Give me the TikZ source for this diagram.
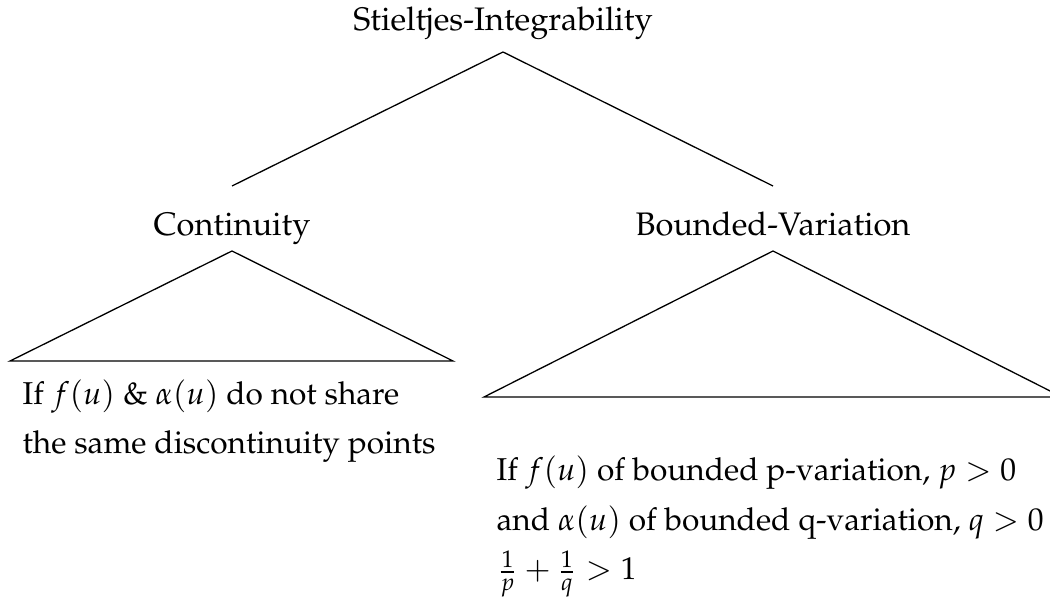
\documentclass[tikz,border=0pt]{standalone}
\usepackage[T1]{fontenc}
\usepackage{mathpazo}
\begin{document}
\begin{tikzpicture}[x=0.307pt,y=-0.307pt,
  lbl/.style={font=\fontsize{10}{12}\selectfont, inner sep=0pt, anchor=base},
  leafline/.style={font=\fontsize{9.7}{12}\selectfont, inner sep=0pt, anchor=base west},
  edge/.style={draw=black, line width=0.4pt, line join=miter}]
\useasboundingbox (0,0) rectangle (1050,598);
% nodes
\node[lbl] (root) at (503,31) {Stieltjes-Integrability};
\node[lbl] (cont) at (232,236) {Continuity};
\node[lbl] (bv) at (773,236) {Bounded-Variation};
\node[leafline] (c1) at (22,405) {If $f(u)$ \& $\alpha(u)$ do not share};
\node[leafline] (c2) at (22,454) {the same discontinuity points};
\node[leafline] (b1) at (496,481) {If $f(u)$ of bounded p-variation, $p>0$};
\node[leafline] (b2) at (496,531) {and $\alpha(u)$ of bounded q-variation, $q>0$};
\node[leafline] (b3) at (496,580) {$\frac{1}{p}+\frac{1}{q}>1$};
% connector points
\coordinate (rootS) at (503,52);
\coordinate (contN) at (232,186);
\coordinate (bvN) at (773,186);
\coordinate (contS) at (232,251);
\coordinate (cL) at (10,361);
\coordinate (cR) at (453,361);
\coordinate (bvS) at (773,251);
\coordinate (bL) at (484,397);
\coordinate (bR) at (1062,397);
% edges
\draw[edge] (rootS) -- (contN);
\draw[edge] (rootS) -- (bvN);
\draw[edge] (contS) -- (cL) -- (cR) -- cycle;
\draw[edge] (bvS) -- (bL) -- (bR) -- cycle;
\end{tikzpicture}
\end{document}
